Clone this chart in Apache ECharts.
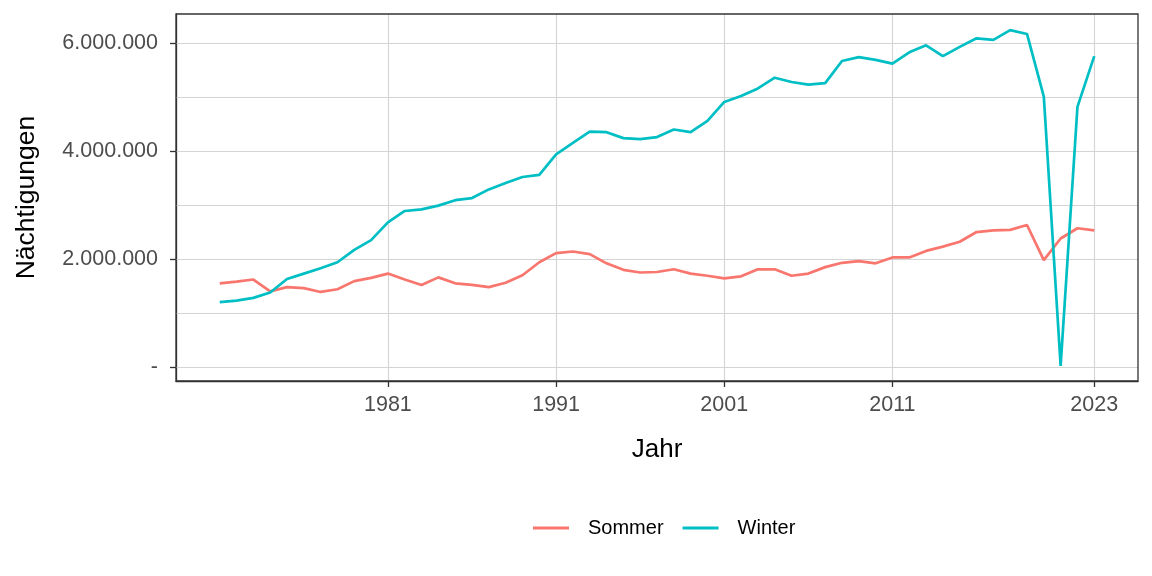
<!DOCTYPE html>
<html>
<head>
<meta charset="utf-8">
<script src="https://cdn.jsdelivr.net/npm/echarts@6/dist/echarts.min.js"></script>
<style>html,body{margin:0;padding:0;background:#fff}#c{width:1152px;height:576px}</style>
</head>
<body>
<div id="c"></div>
<script>
const years = [1971,1972,1973,1974,1975,1976,1977,1978,1979,1980,1981,1982,1983,1984,1985,1986,1987,1988,1989,1990,1991,1992,1993,1994,1995,1996,1997,1998,1999,2000,2001,2002,2003,2004,2005,2006,2007,2008,2009,2010,2011,2012,2013,2014,2015,2016,2017,2018,2019,2020,2021,2022,2023];
const sommer = [1550000,1580000,1620000,1400000,1480000,1460000,1390000,1440000,1590000,1650000,1730000,1620000,1520000,1660000,1550000,1520000,1480000,1560000,1700000,1940000,2110000,2140000,2090000,1920000,1800000,1750000,1760000,1810000,1730000,1690000,1640000,1680000,1810000,1810000,1690000,1730000,1850000,1930000,1960000,1920000,2030000,2030000,2150000,2230000,2320000,2500000,2530000,2540000,2630000,1980000,2380000,2570000,2530000];
const winter = [1200000,1230000,1280000,1380000,1630000,1730000,1830000,1940000,2170000,2350000,2680000,2890000,2920000,2990000,3090000,3130000,3290000,3410000,3520000,3560000,3940000,4150000,4360000,4350000,4240000,4220000,4260000,4400000,4350000,4560000,4910000,5020000,5160000,5360000,5280000,5230000,5260000,5670000,5740000,5690000,5620000,5830000,5960000,5760000,5930000,6090000,6060000,6240000,6170000,5010000,20000,4820000,5760000];
const xTicks = [1981,1991,2001,2011,2023];
const yTicks = [0,2000000,4000000,6000000];
const yMinor = [1000000,3000000,5000000];
const seriesNames = ['Sommer','Winter'];
const colors = ['#F8766D','#00BFC4'];

function fmt(v){ if(v===0) return '-'; return String(Math.round(v)).replace(/\B(?=(\d{3})+(?!\d))/g,'.'); }

const gridColor = '#d4d4d4';
const gridLines = [];
yTicks.concat(yMinor).forEach(v=>gridLines.push({yAxis:v}));
xTicks.forEach(v=>gridLines.push({xAxis:v}));

const FF = 'Liberation Sans, Arial, sans-serif';
const chart = echarts.init(document.getElementById('c'), null, {renderer:'canvas'});
chart.setOption({
  animation:false,
  backgroundColor:'#fff',
  textStyle:{fontFamily:FF},
  grid:{left:176,right:14,top:14,bottom:195,show:true,borderColor:'#333',borderWidth:1.3,backgroundColor:'transparent',z:5},
  xAxis:{type:'value',min:1968.4,max:2025.6,
    name:'Jahr',nameLocation:'middle',nameGap:56,
    nameTextStyle:{fontSize:26,color:'#000',fontFamily:FF},
    axisLine:{show:true,onZero:false,lineStyle:{color:'#333',width:1.3}},
    axisTick:{show:true,inside:false,length:6,lineStyle:{color:'#333',width:1.3},customValues:xTicks},
    axisLabel:{fontSize:21.5,color:'#4d4d4d',margin:13,customValues:xTicks,formatter:v=>String(v)},
    splitLine:{show:false}},
  yAxis:{type:'value',min:-260000,max:6540000,
    name:'Nächtigungen',nameLocation:'middle',nameGap:136,nameRotate:90,
    nameTextStyle:{fontSize:26.5,color:'#000',fontFamily:FF},
    axisLine:{show:true,onZero:false,lineStyle:{color:'#333',width:1.3}},
    axisTick:{show:true,inside:false,length:6,lineStyle:{color:'#333',width:1.3},customValues:yTicks},
    axisLabel:{fontSize:21.5,color:'#4d4d4d',margin:18,customValues:yTicks,formatter:fmt},
    splitLine:{show:false}},
  legend:{left:533,top:518,padding:0,itemWidth:36,itemHeight:3,itemGap:19,icon:'rect',
    textStyle:{fontSize:20,color:'#000',padding:[0,0,0,14]},
    data:seriesNames},
  series:[
    {name:seriesNames[0],type:'line',data:years.map((y,i)=>[y,sommer[i]]),showSymbol:false,
      lineStyle:{color:colors[0],width:2.7},itemStyle:{color:colors[0]},z:3,
      markLine:{silent:true,symbol:'none',label:{show:false},z:1,
        lineStyle:{color:gridColor,width:1.1,type:'solid'},data:gridLines,animation:false}},
    {name:seriesNames[1],type:'line',data:years.map((y,i)=>[y,winter[i]]),showSymbol:false,
      lineStyle:{color:colors[1],width:2.7},itemStyle:{color:colors[1]},z:3}
  ]
});
</script>
</body>
</html>
